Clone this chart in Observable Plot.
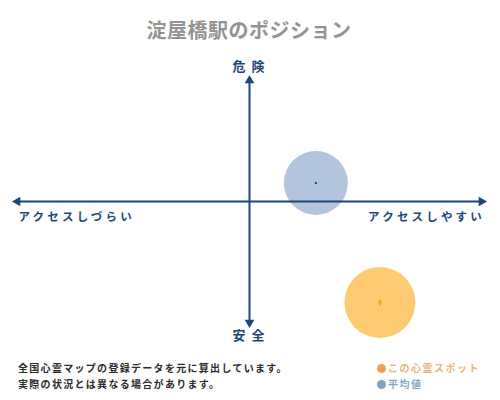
<!DOCTYPE html>
<html>
<head>
<meta charset="utf-8">
<script src="https://cdn.jsdelivr.net/npm/d3@7"></script>
<script src="https://cdn.jsdelivr.net/npm/@observablehq/plot@0.6"></script>
<style>
  html, body { margin: 0; padding: 0; background: #fff; }
  body { width: 500px; height: 400px; overflow: hidden; font-family: "Noto Sans CJK JP", sans-serif; }
  #title { height: 50px; line-height: 60px; text-align: center; font-size: 20px; font-weight: bold; color: #939393; letter-spacing: 0.5px; width: 498px; }
  #chart svg { display: block; }
  #footer { position: relative; height: 40px; font-size: 10px; font-weight: bold; }
  #caption { position: absolute; left: 18px; top: 0; color: #2b2b2b; line-height: 16px; letter-spacing: 1.3px; }
  #legend { position: absolute; left: 377px; top: 0; line-height: 16px; letter-spacing: 1.5px; }
  .sw { display: inline-block; width: 9px; height: 9px; border-radius: 50%; margin-right: 2px; vertical-align: -1px; }
</style>
</head>
<body>
<div id="title">淀屋橋駅のポジション</div>
<div id="chart"></div>
<div id="footer">
  <div id="caption"></div>
  <div id="legend"></div>
</div>
<script>
const series = ["この心霊スポット", "平均値"];
const access = [0.562, 0.286];   // アクセスしづらい(-1) … アクセスしやすい(+1)
const danger = [-0.835, 0.153];  // 安全(-1) … 危険(+1)
const xLabels = ["アクセスしづらい", "アクセスしやすい"];
const yLabels = ["危険", "安全"];
const captionLines = ["全国心霊マップの登録データを元に算出しています。", "実際の状況とは異なる場合があります。"];

const navy = "#1d4775";
const points = series.map((s, i) => ({series: s, x: access[i], y: danger[i]}));
const spot = points.filter(d => d.series === series[0]);
const avg = points.filter(d => d.series === series[1]);

const ends = [
  {x: -1, y: 0, rot: -90},
  {x: 1, y: 0, rot: 90},
  {x: 0, y: 1, rot: 0},
  {x: 0, y: -1, rot: 180}
];

const chart = Plot.plot({
  width: 500,
  height: 310,
  x: {domain: [-1, 1], range: [17, 481], axis: null},
  y: {domain: [-1, 1], range: [272, 30], axis: null},
  style: {fontFamily: "'Noto Sans CJK JP', sans-serif", background: "transparent"},
  marks: [
    Plot.dot(spot, {x: "x", y: "y", r: 35.5, fill: "#fec86c", fillOpacity: 0.95}),
    Plot.dot(avg, {x: "x", y: "y", r: 32, fill: "#abc0da", fillOpacity: 0.92}),
    Plot.ruleY([0], {x1: -1, x2: 1, stroke: navy, strokeWidth: 2}),
    Plot.ruleX([0], {y1: -1, y2: 1, stroke: navy, strokeWidth: 2}),
    Plot.dot(ends, {x: "x", y: "y", symbol: "triangle", r: 3.6, fill: navy, rotate: "rot"}),
    Plot.dot(avg, {x: "x", y: "y", r: 1.1, fill: "#1d2f4a"}),
    Plot.dot(spot, {x: "x", y: "y", symbol: "diamond", r: 2.2, fill: "#f5a623"}),
    Plot.text([xLabels[0]], {x: -1, y: 0, text: d => d, dx: 1, dy: 16, textAnchor: "start", fontSize: 11.5, fontWeight: "bold", fill: navy}),
    Plot.text([xLabels[1]], {x: 1, y: 0, text: d => d, dx: 3.5, dy: 16, textAnchor: "end", fontSize: 11.5, fontWeight: "bold", fill: navy}),
    Plot.text([yLabels[0]], {x: 0, y: 1, text: d => d, dx: 2, dy: -14, fontSize: 13, fontWeight: "bold", fill: navy}),
    Plot.text([yLabels[1]], {x: 0, y: -1, text: d => d, dx: 2, dy: 13, fontSize: 13, fontWeight: "bold", fill: navy})
  ]
});

d3.select(chart).selectAll("text").each(function() {
  const t = d3.select(this).text();
  if (xLabels.includes(t)) d3.select(this).attr("letter-spacing", "3.2px");
  if (yLabels.includes(t)) d3.select(this).attr("letter-spacing", "6px");
});
document.getElementById("chart").appendChild(chart);

document.getElementById("caption").innerHTML = captionLines.map(l => `<div>${l}</div>`).join("");
const legendColors = ["#f0a04a", "#7fa3c6"];
const legendText = ["#e9b57a", "#85a6c7"];
document.getElementById("legend").innerHTML = series.map((s, i) =>
  `<div style="color:${legendText[i]}"><span class="sw" style="background:${legendColors[i]}"></span>${s}</div>`).join("");
</script>
</body>
</html>
